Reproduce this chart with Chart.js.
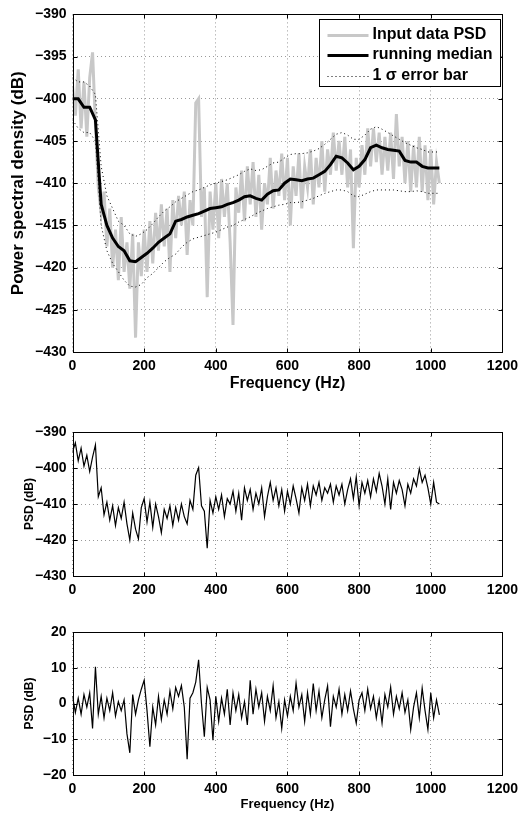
<!DOCTYPE html>
<html>
<head>
<meta charset="utf-8">
<script src="https://cdn.jsdelivr.net/npm/chart.js@4.4.0/dist/chart.umd.min.js"></script>
<style>
  body { margin: 0; background: #fff; }
  .panel { position: absolute; left: 0; width: 524px; }
</style>
</head>
<body>
<div class="panel" style="top:0;height:400px"><canvas id="psdChart"></canvas></div>
<div class="panel" style="top:400px;height:200px"><canvas id="rawChart"></canvas></div>
<div class="panel" style="top:600px;height:214px"><canvas id="whiteChart"></canvas></div>
<script>
// sample spacing of the PSD (Hz) and of the running median (Hz)
const psdStep = 8
const medianStep = 16

// top panel: input PSD (grey), one value every 8 Hz from 0 to 1024 Hz
const inputPsd = [
  -398.5, -402, -396.5, -403.5, -398, -404.5, -397.5, -394.5,
  -403, -410.5, -413.5, -411, -417.5, -413, -420, -415.5,
  -421.5, -414, -420.5, -417, -422.5, -416, -428.3, -417,
  -421, -415.5, -420.5, -414.5, -419.5, -413.5, -418, -412.5,
  -417.5, -413, -420.5, -412, -416.5, -411.5, -415, -411,
  -418.5, -412, -415, -400.5, -400, -414, -410.5, -423.5,
  -411, -415.5, -410, -416.5, -409.5, -414, -410, -417,
  -426.8, -410.5, -413.5, -408.5, -414.5, -408, -412.5, -407.5,
  -414, -409, -415.5, -410, -412.5, -407, -413, -408.5,
  -411.5, -406.5, -412, -407, -415, -408, -411.5, -406.5,
  -413, -408, -410.5, -406, -412.5, -407, -410.5, -405,
  -411, -406, -409, -404, -408.5, -405, -409, -404.5,
  -410.5, -406, -417.7, -407, -410.5, -405.5, -409, -403.5,
  -408, -403.5, -407.5, -404, -409, -404.5, -408.5, -404,
  -409.5, -401.8, -408, -404.5, -410, -405, -411, -405.5,
  -410.5, -404.5, -411, -405.5, -412, -406, -412.5, -407.5,
  -410
]

// running median and 1 sigma band, one value every 16 Hz
const runningMedian = [
  -400, -400, -401, -401, -402.5, -412.5, -415, -416.5,
  -417.5, -418, -419.2, -419.3, -418.8, -418.3, -417.7, -417,
  -416.5, -416, -414.5, -414.3, -414, -413.8, -413.6, -413.3,
  -413, -412.9, -412.8, -412.5, -412.3, -412, -411.6, -411.5,
  -411.8, -412, -411.3, -410.9, -410.8, -410, -409.5, -409.6,
  -409.7, -409.5, -409.4, -409, -408.6, -407.8, -406.8, -407,
  -407.6, -408.4, -408, -407.2, -405.8, -405.5, -405.8, -406,
  -406.1, -406.2, -407.3, -407.5, -407.5, -408, -408.2, -408.2,
  -408.2
]
const sigmaUpper = [
  -397.5, -398, -398, -398.5, -399.5, -408, -411.5, -413,
  -414.5, -415, -416, -416.3, -416, -415.5, -414.8, -414,
  -413.3, -412.8, -412.2, -411.8, -411.4, -411, -410.8, -410.5,
  -410.2, -410, -409.8, -409.6, -409.3, -409, -408.6, -408.3,
  -408.5, -408.4, -408, -407.6, -407.5, -407, -406.6, -406.5,
  -406.5, -406.4, -406.2, -405.9, -405.4, -404.8, -404.2, -404,
  -404.3, -404.8, -404.8, -404.3, -403.6, -403.3, -403.6, -404,
  -404.4, -404.8, -405.2, -405.5, -405.8, -406, -406.3, -406.3,
  -406.3
]
const sigmaLower = [
  -402.5, -403.5, -404, -404, -405, -415, -418, -419.5,
  -420.5, -421.5, -422.2, -422.3, -422, -421.2, -420.7, -420,
  -419.3, -418.8, -418.4, -417.6, -417, -416.6, -416.4, -416.2,
  -416, -415.8, -415.5, -415.2, -415, -414.6, -414.3, -414,
  -413.6, -413.3, -413, -412.8, -412.6, -412.5, -412.3, -412.3,
  -412.2, -412, -411.8, -411.5, -411.2, -411, -410.8, -410.8,
  -411, -411.5, -411.6, -411.3, -411, -410.8, -410.8, -410.8,
  -410.8, -410.9, -411, -411, -410.9, -411, -411.2, -411.2,
  -411.2
]

// middle panel: raw PSD (dB), every 8 Hz
const rawPsd = [
  -395.5, -393, -398, -394.5, -399.5, -396.5, -401, -397,
  -393.6, -408, -405.5, -413, -409.5, -414.5, -410.5, -416,
  -411, -414, -409.5, -415.5, -420, -412.5, -417, -419.7,
  -411, -408.5, -415, -409.5, -416.5, -410, -413.5, -418,
  -411.5, -414, -410.5, -416, -411, -414.5, -410, -413.5,
  -415.5, -409, -411.5, -402, -399.9, -410.5, -412, -422.3,
  -409, -412.5, -408, -411.5, -407.5, -413.5, -408.5, -410,
  -406.5, -412, -407, -414.5, -405.5, -409, -406, -411.5,
  -407, -410, -405.5, -413.5, -408, -404, -409, -405.5,
  -410.5, -406, -412, -406.5, -410, -405, -408.5, -412.5,
  -405.5, -409, -404.5, -410.5, -405, -407.5, -404, -409,
  -405.5, -407, -404.5, -409.5, -405, -407.5, -404.5, -410,
  -406, -403, -408.5, -402.5, -410.5, -404, -407, -403.5,
  -408, -403, -406.5, -401.5, -405, -410, -403, -411.5,
  -404, -407, -403.5, -406, -410.5, -404.5, -407, -403,
  -405, -400.2, -404, -402, -405.5, -410, -404, -409.5,
  -410
]

// bottom panel: whitened PSD (dB), every 8 Hz
const whitePsd = [
  2, -2.5, 1.5, -3, 2.5, -1, 3, -7,
  10.3, -3, 2, -4, 1.5, -2, 3, -3.5,
  0.5, -2, 1, -8.5, -13.8, 2.5, -3, 1,
  4, 6.5, -2, -12.1, -1, -6, 2, -4.5,
  1, -3, 3.5, -1.5, 4.5, 2, 5, -1,
  -15.6, 1.5, 3, 6, 12.2, 0, -9.3, 4.5,
  1, -10.3, 2, -5, 1.5, -3, 4, -6,
  3, -2, 2.5, -4, 0.5, -6, 6.5, -3,
  4, -1, 3, -5, 2, -2, 5, -4,
  0.5, -7, 1, -3.5, 2, -2, 5.7, -1,
  2.5, -5, 3, -3, 5.6, -2, 3.5, -4,
  1, 4.9, -6.5, 2, -1, 4, -3, 2.5,
  -2, 3.5, -1.5, -5.5, 1, 3, -2, 4,
  -1.5, 2, -4, 1, -5.5, 2.5, -1, 4.6,
  -3, 2, -1.5, 3, -2.5, 1, -7.3, -1,
  3, -4, 4.3, -2, -7.3, 3, -4, 1,
  -3.2
]

const legendLabels = ['Input data PSD', 'running median', '1 \u03c3 error bar']

const FONT = 'Liberation Sans, Arial, Helvetica, sans-serif'

function toPoints(values, step) {
  return values.map((v, i) => ({ x: i * step, y: v }))
}

function plainTick(v) {
  return v < 0 ? '\u2212' + Math.abs(v) : String(v)
}

// matlab style box with inward tick marks
const boxPlugin = {
  id: 'box',
  afterDraw(chart) {
    const { ctx, chartArea: a, scales } = chart
    const L = Math.round(a.left) + 0.5, R = Math.round(a.right) + 0.5
    const T = Math.round(a.top) + 0.5, B = Math.round(a.bottom) + 0.5
    ctx.save()
    ctx.strokeStyle = '#000'
    ctx.lineWidth = 1
    ctx.beginPath()
    scales.x.ticks.forEach(t => {
      const px = Math.round(scales.x.getPixelForValue(t.value)) + 0.5
      ctx.moveTo(px, B); ctx.lineTo(px, B - 4)
      ctx.moveTo(px, T); ctx.lineTo(px, T + 4)
    })
    scales.y.ticks.forEach(t => {
      const py = Math.round(scales.y.getPixelForValue(t.value)) + 0.5
      ctx.moveTo(L, py); ctx.lineTo(L + 4, py)
      ctx.moveTo(R, py); ctx.lineTo(R - 4, py)
    })
    ctx.stroke()
    ctx.strokeRect(L, T, R - L, B - T)
    ctx.restore()
  }
}

// legend box in the top right corner of the first panel
const legendBoxPlugin = {
  id: 'legendBox',
  afterDraw(chart) {
    const { ctx, chartArea: a } = chart
    const w = 181, h = 67
    const x0 = Math.round(a.right) - 2 - w + 0.5
    const y0 = Math.round(a.top) + 5 + 0.5
    ctx.save()
    ctx.fillStyle = '#fff'
    ctx.fillRect(x0, y0, w, h)
    ctx.strokeStyle = '#000'
    ctx.lineWidth = 1
    ctx.strokeRect(x0, y0, w, h)
    const styles = [
      { color: 'rgb(200,200,200)', width: 3, dash: [] },
      { color: '#000', width: 3, dash: [] },
      { color: '#000', width: 1, dash: [1, 3] }
    ]
    ctx.font = 'bold 16px ' + FONT
    ctx.textBaseline = 'middle'
    legendLabels.forEach((label, i) => {
      const y = y0 + 15 + i * 20.5
      const s = styles[i]
      ctx.beginPath()
      ctx.setLineDash(s.dash)
      ctx.strokeStyle = s.color
      ctx.lineWidth = s.width
      ctx.moveTo(x0 + 8, Math.round(y) + 0.5)
      ctx.lineTo(x0 + 49, Math.round(y) + 0.5)
      ctx.stroke()
      ctx.setLineDash([])
      ctx.fillStyle = '#000'
      ctx.fillText(label, x0 + 53, y)
    })
    ctx.restore()
  }
}

function makeOptions(cfg) {
  return {
    responsive: true,
    maintainAspectRatio: false,
    animation: false,
    events: [],
    layout: { padding: { left: 0, right: 19, top: cfg.padTop, bottom: 0 } },
    plugins: { legend: { display: false }, tooltip: { enabled: false } },
    elements: { point: { radius: 0 }, line: { tension: 0 } },
    scales: {
      x: {
        type: 'linear',
        min: 0,
        max: 1200,
        afterFit(scale) { scale.height = cfg.xHeight },
        ticks: {
          stepSize: 200,
          autoSkip: false,
          maxRotation: 0,
          padding: 6,
          color: '#000',
          font: { family: FONT, size: 14, weight: 'bold' },
          callback: plainTick
        },
        grid: { color: '#999', drawTicks: false },
        border: { display: false, dash: [1, 3] },
        title: {
          display: !!cfg.xTitle,
          text: cfg.xTitle || '',
          color: '#000',
          font: { family: FONT, size: cfg.xTitleSize || 15, weight: 'bold' },
          padding: { top: 0, bottom: cfg.xTitlePad || 0 }
        }
      },
      y: {
        min: cfg.yMin,
        max: cfg.yMax,
        afterFit(scale) { scale.width = 72.5 },
        ticks: {
          stepSize: cfg.yStep,
          autoSkip: false,
          padding: 6,
          color: '#000',
          font: { family: FONT, size: 14, weight: 'bold' },
          callback: plainTick
        },
        grid: { color: '#999', drawTicks: false },
        border: { display: false, dash: [1, 3] },
        title: {
          display: true,
          text: cfg.yTitle,
          color: '#000',
          font: { family: FONT, size: cfg.yTitleSize, weight: 'bold' },
          padding: { top: cfg.yTitlePad, bottom: 0 }
        }
      }
    }
  }
}

new Chart(document.getElementById('psdChart'), {
  type: 'line',
  data: {
    datasets: [
      { label: 'running median', data: toPoints(runningMedian, medianStep), borderColor: '#000', borderWidth: 3 },
      { label: 'upper', data: toPoints(sigmaUpper, medianStep), borderColor: '#000', borderWidth: 1, borderDash: [1, 3] },
      { label: 'lower', data: toPoints(sigmaLower, medianStep), borderColor: '#000', borderWidth: 1, borderDash: [1, 3] },
      { label: 'Input data PSD', data: toPoints(inputPsd, psdStep), borderColor: 'rgb(200,200,200)', borderWidth: 3 }
    ]
  },
  options: makeOptions({
    padTop: 10, xHeight: 48, yMin: -430, yMax: -390, yStep: 5,
    yTitle: 'Power spectral density (dB)', yTitleSize: 17, yTitlePad: 8,
    xTitle: 'Frequency (Hz)', xTitleSize: 16, xTitlePad: 6.5
  }),
  plugins: [boxPlugin, legendBoxPlugin]
})

new Chart(document.getElementById('rawChart'), {
  type: 'line',
  data: {
    datasets: [
      { label: 'PSD', data: toPoints(rawPsd, psdStep), borderColor: '#000', borderWidth: 1.2 }
    ]
  },
  options: makeOptions({
    padTop: 32, xHeight: 24, yMin: -430, yMax: -390, yStep: 10,
    yTitle: 'PSD (dB)', yTitleSize: 12, yTitlePad: 22
  }),
  plugins: [boxPlugin]
})

new Chart(document.getElementById('whiteChart'), {
  type: 'line',
  data: {
    datasets: [
      { label: 'PSD', data: toPoints(whitePsd, psdStep), borderColor: '#000', borderWidth: 1.2 }
    ]
  },
  options: makeOptions({
    padTop: 32, xHeight: 39, yMin: -20, yMax: 20, yStep: 10,
    yTitle: 'PSD (dB)', yTitleSize: 12, yTitlePad: 22,
    xTitle: 'Frequency (Hz)', xTitleSize: 13, xTitlePad: 2
  }),
  plugins: [boxPlugin]
})
</script>
</body>
</html>
